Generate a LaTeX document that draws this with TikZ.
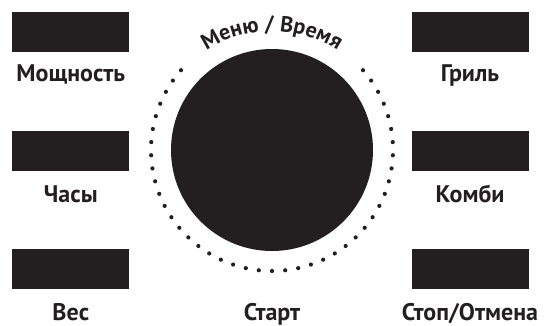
\documentclass[tikz,border=0pt]{standalone}
\usepackage{fontspec}
\setmainfont{PT Sans}
\newfontfamily\labfont{PT Sans}
\usetikzlibrary{decorations.text}
\definecolor{ink}{RGB}{35,31,32}
\tikzset{
  key/.style={fill=ink,draw=none,minimum width=117pt,minimum height=40pt,inner sep=0pt},
  lab/.style={anchor=base,inner sep=0pt,text=ink,font=\labfont\bfseries\fontsize{24}{28}\selectfont},
  dot/.style={fill=ink,draw=none},
}
\begin{document}
\begin{tikzpicture}[x=1pt,y=1pt]
\useasboundingbox (0,0) rectangle (547,325);
% buttons
\node[key] (b1) at (70.8,293) {};
\node[key] (b2) at (70.8,174) {};
\node[key] (b3) at (70.8,56.5) {};
\node[key] (b4) at (470,293) {};
\node[key] (b5) at (470,174) {};
\node[key] (b6) at (470,56.5) {};
% labels
\node[lab] (l1) at (70.8,244) {Мощность};
\node[lab] (l2) at (70.8,123) {Часы};
\node[lab,text depth=0pt] (l3) at (70.8,5) {Вес};
\node[lab] (l4) at (470,244) {Гриль};
\node[lab] (l5) at (470,123) {Комби};
\node[lab,text depth=0pt] (l6) at (470,5) {Стоп/Отмена};
\node[lab,text depth=0pt] (l7) at (272,5) {Старт};
% knob
\node[circle,fill=ink,draw=none,minimum size=202pt,inner sep=0pt] (knob) at (272,175) {};
% dotted ring
\foreach \k in {-21,...,21}{
  \fill[dot] (knob.center) ++({270+6.25*\k}:121) circle[radius=2.1pt];
}
% curved label
\path[decorate,decoration={text along path,text align=center,
  text format delimiters={|}{|},
  text={|\labfont\bfseries\fontsize{22}{26}\selectfont\color{ink}|Меню / Время}}]
  (knob.center) ++(150:119) arc[start angle=150,end angle=30,radius=119];
\end{tikzpicture}
\end{document}
